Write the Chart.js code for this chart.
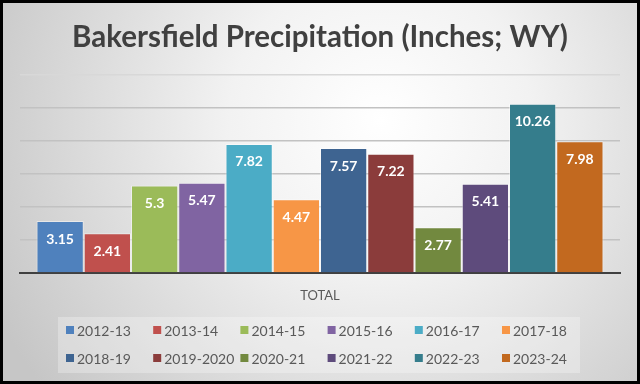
<!DOCTYPE html>
<html>
<head>
<meta charset="utf-8">
<script src="https://cdn.jsdelivr.net/npm/chart.js@4"></script>
<style>
html,body{margin:0;padding:0;background:#fff;}
#wrap{width:640px;height:384px;position:relative;}
</style>
</head>
<body>
<div id="wrap"><canvas id="c" width="640" height="384"></canvas></div>
<script>
const categories = ['TOTAL'];
const seasons = ['2012-13','2013-14','2014-15','2015-16','2016-17','2017-18','2018-19','2019-2020','2020-21','2021-22','2022-23','2023-24'];
const values = [3.15, 2.41, 5.3, 5.47, 7.82, 4.47, 7.57, 7.22, 2.77, 5.41, 10.26, 7.98];
const colors = ['#4F81BD','#C0504D','#9BBB59','#8064A2','#4BACC6','#F79646','#3E6491','#8B3C3B','#72893F','#5E4B7C','#357D8C','#C2691F'];
const yTicks = [0, 2, 4, 6, 8, 10, 12];
const titleText = 'Bakersfield Precipitation (Inches; WY)';
const FONT = 'Lato, "Open Sans", sans-serif';

const bgPlugin = {
  id: 'bg',
  beforeDraw(chart) {
    const ctx = chart.ctx;
    ctx.save();
    const g = ctx.createRadialGradient(380, 120, 0, 380, 120, 430);
    g.addColorStop(0, '#ffffff');
    g.addColorStop(0.35, '#f2f2f2');
    g.addColorStop(1, '#c6c6c6');
    ctx.fillStyle = g;
    ctx.fillRect(0, 0, chart.width, chart.height);
    ctx.restore();
  },
  afterDraw(chart) {
    const ctx = chart.ctx;
    ctx.save();
    ctx.strokeStyle = '#000';
    ctx.lineWidth = 3;
    ctx.strokeRect(1.5, 1.5, chart.width - 3, chart.height - 3);
    ctx.restore();
  }
};

const labelPlugin = {
  id: 'barLabels',
  afterDatasetsDraw(chart) {
    const ctx = chart.ctx;
    ctx.save();
    ctx.font = 'bold 14px ' + FONT;
    ctx.fillStyle = '#ffffff';
    ctx.textAlign = 'center';
    ctx.textBaseline = 'middle';
    chart.data.datasets.forEach((ds, i) => {
      const meta = chart.getDatasetMeta(i);
      meta.data.forEach((bar, j) => {
        ctx.fillText(String(ds.data[j]), bar.x, bar.y + 18);
      });
    });
    ctx.restore();
  }
};

const legendPlugin = {
  id: 'gridLegend',
  afterDraw(chart) {
    const ctx = chart.ctx;
    ctx.save();
    ctx.fillStyle = 'rgba(255,255,255,0.28)';
    ctx.fillRect(58, 317, 522, 56);
    ctx.font = '14px ' + FONT;
    ctx.textBaseline = 'middle';
    ctx.textAlign = 'left';
    chart.data.datasets.forEach((ds, i) => {
      const col = i % 6, row = Math.floor(i / 6);
      const x = 66 + col * 87.2;
      const y = 330 + row * 28;
      ctx.fillStyle = ds.backgroundColor;
      ctx.fillRect(x, y - 4, 8, 8);
      ctx.fillStyle = '#595959';
      ctx.fillText(ds.label, x + 11, y + 1);
    });
    ctx.restore();
  }
};

new Chart(document.getElementById('c'), {
  type: 'bar',
  data: {
    labels: categories,
    datasets: seasons.map((s, i) => ({
      label: s,
      data: [values[i]],
      backgroundColor: colors[i],
      borderColor: 'rgba(255,255,255,0.45)',
      borderWidth: 1,
      categoryPercentage: 0.945,
      barPercentage: 1
    }))
  },
  options: {
    responsive: false,
    animation: false,
    devicePixelRatio: 1,
    layout: { padding: { left: 20, right: 20, top: 0, bottom: 0 } },
    plugins: {
      legend: { display: false },
      tooltip: { enabled: false },
      title: {
        display: true,
        text: titleText,
        color: '#404040',
        font: { family: FONT, size: 29.5, weight: 'bold', lineHeight: 1.2 },
        padding: { top: 20, bottom: 19.6 }
      }
    },
    scales: {
      x: {
        grid: { display: false, drawTicks: false },
        border: { display: true, color: '#404040', width: 2 },
        ticks: { color: '#595959', font: { family: FONT, size: 13 }, padding: 15 },
        afterFit(axis) { axis.height = 111; }
      },
      y: {
        min: 0, max: 12,
        afterBuildTicks(axis) { axis.ticks = yTicks.map(v => ({ value: v })); },
        ticks: { display: false },
        border: { display: false },
        grid: {
          drawTicks: false,
          lineWidth: 1.5,
          color: ctx => (ctx.tick && ctx.tick.value === 12) ? '#d8d8d8' : '#c2c2c2'
        },
        afterFit(axis) { axis.width = 0; }
      }
    }
  },
  plugins: [bgPlugin, labelPlugin, legendPlugin]
});
</script>
</body>
</html>
